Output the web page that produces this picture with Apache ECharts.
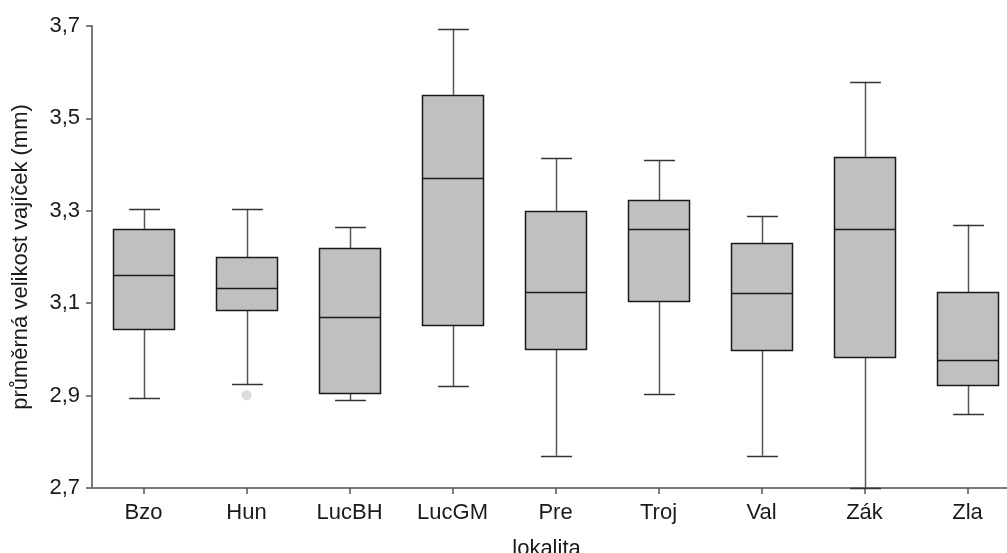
<!DOCTYPE html>
<html>
<head>
<meta charset="utf-8">
<script src="https://cdn.jsdelivr.net/npm/echarts@6/dist/echarts.min.js"></script>
<style>html,body{margin:0;padding:0;background:#fff;}#c{width:1007px;height:553px;}</style>
</head>
<body>
<div id="c"></div>
<script>
const categories = ['Bzo','Hun','LucBH','LucGM','Pre','Troj','Val','Zák','Zla'];
const whiskerLow  = [2.894, 2.925, 2.890, 2.920, 2.770, 2.904, 2.770, 2.700, 2.860];
const quartile1   = [3.044, 3.085, 2.905, 3.053, 3.000, 3.104, 2.999, 2.984, 2.922];
const medians     = [3.160, 3.132, 3.071, 3.372, 3.124, 3.260, 3.121, 3.260, 2.978];
const quartile3   = [3.261, 3.199, 3.219, 3.551, 3.300, 3.323, 3.230, 3.417, 3.124];
const whiskerHigh = [3.304, 3.304, 3.264, 3.694, 3.414, 3.410, 3.289, 3.579, 3.270];
const outliers    = [['Hun', 2.901]];
const yTicks      = [2.7, 2.9, 3.1, 3.3, 3.5, 3.7];

const boxData = categories.map((c, i) => [i, whiskerLow[i], quartile1[i], medians[i], quartile3[i], whiskerHigh[i]]);
const outlierData = outliers.map(o => [categories.indexOf(o[0]), o[1]]);

const FONT = 'Liberation Sans, Arial, sans-serif';
const chart = echarts.init(document.getElementById('c'), null, {renderer: 'canvas'});

function crisp(v){ return Math.round(v) + 0.5; }

chart.setOption({
  animation: false,
  backgroundColor: '#ffffff',
  grid: {left: 92, top: 26, width: 927, height: 462, containLabel: false, outerBoundsMode: 'none'},
  xAxis: {
    type: 'category',
    data: categories,
    boundaryGap: true,
    name: 'lokalita',
    nameLocation: 'middle',
    nameGap: 50,
    nameTextStyle: {fontFamily: FONT, fontSize: 22, color: '#1a1a1a', padding: [0, 18, 0, 0]},
    axisLine: {show: true, lineStyle: {color: '#7a7a7a', width: 2}},
    axisTick: {show: true, alignWithLabel: true, length: 6, lineStyle: {color: '#555', width: 1.5}},
    axisLabel: {fontFamily: FONT, fontSize: 22, color: '#1a1a1a', margin: 14},
    splitLine: {show: false}
  },
  yAxis: {
    type: 'value',
    min: 2.7,
    max: 3.7,
    name: 'průměrná velikost vajíček (mm)',
    nameLocation: 'middle',
    nameGap: 60,
    nameTextStyle: {fontFamily: FONT, fontSize: 22, color: '#1a1a1a'},
    axisLine: {show: true, lineStyle: {color: '#7a7a7a', width: 2}},
    axisTick: {show: true, length: 6, customValues: yTicks, lineStyle: {color: '#555', width: 1.5}},
    axisLabel: {
      fontFamily: FONT, fontSize: 22, color: '#1a1a1a', margin: 12,
      customValues: yTicks,
      formatter: v => v.toFixed(1).replace('.', ',')
    },
    splitLine: {show: false}
  },
  series: [
    {
      type: 'custom',
      data: boxData,
      encode: {x: 0, y: [1, 2, 3, 4, 5]},
      clip: false,
      renderItem: function (params, api) {
        const i = api.value(0);
        const band = api.size([1, 0])[0];
        const bw = band * 0.6, cw = band * 0.3;
        const pLow = api.coord([i, api.value(1)]);
        const pQ1 = api.coord([i, api.value(2)]);
        const pMed = api.coord([i, api.value(3)]);
        const pQ3 = api.coord([i, api.value(4)]);
        const pHigh = api.coord([i, api.value(5)]);
        const cx = crisp(pMed[0]);
        const x0 = Math.round(pMed[0] - bw / 2) + 0.5;
        const x1 = Math.round(pMed[0] + bw / 2) + 0.5;
        const whiskStyle = {stroke: '#555555', lineWidth: 1.5};
        const capStyle = {stroke: '#333333', lineWidth: 1.5};
        return {
          type: 'group',
          children: [
            {type: 'line', shape: {x1: cx, y1: pQ3[1], x2: cx, y2: pHigh[1]}, style: whiskStyle},
            {type: 'line', shape: {x1: cx, y1: pQ1[1], x2: cx, y2: pLow[1]}, style: whiskStyle},
            {type: 'line', shape: {x1: cx - cw / 2, y1: crisp(pHigh[1]), x2: cx + cw / 2, y2: crisp(pHigh[1])}, style: capStyle},
            {type: 'line', shape: {x1: cx - cw / 2, y1: crisp(pLow[1]), x2: cx + cw / 2, y2: crisp(pLow[1])}, style: capStyle},
            {type: 'rect', shape: {x: x0, y: crisp(pQ3[1]), width: x1 - x0, height: crisp(pQ1[1]) - crisp(pQ3[1])},
              style: {fill: '#c0c0c0', stroke: '#1a1a1a', lineWidth: 1.5}},
            {type: 'line', shape: {x1: x0, y1: crisp(pMed[1]), x2: x1, y2: crisp(pMed[1])}, style: {stroke: '#1a1a1a', lineWidth: 1.5}}
          ]
        };
      }
    },
    {
      type: 'scatter',
      data: outlierData,
      symbol: 'circle',
      symbolSize: 10,
      itemStyle: {color: '#d3d3d3'}
    }
  ]
});
</script>
</body>
</html>
